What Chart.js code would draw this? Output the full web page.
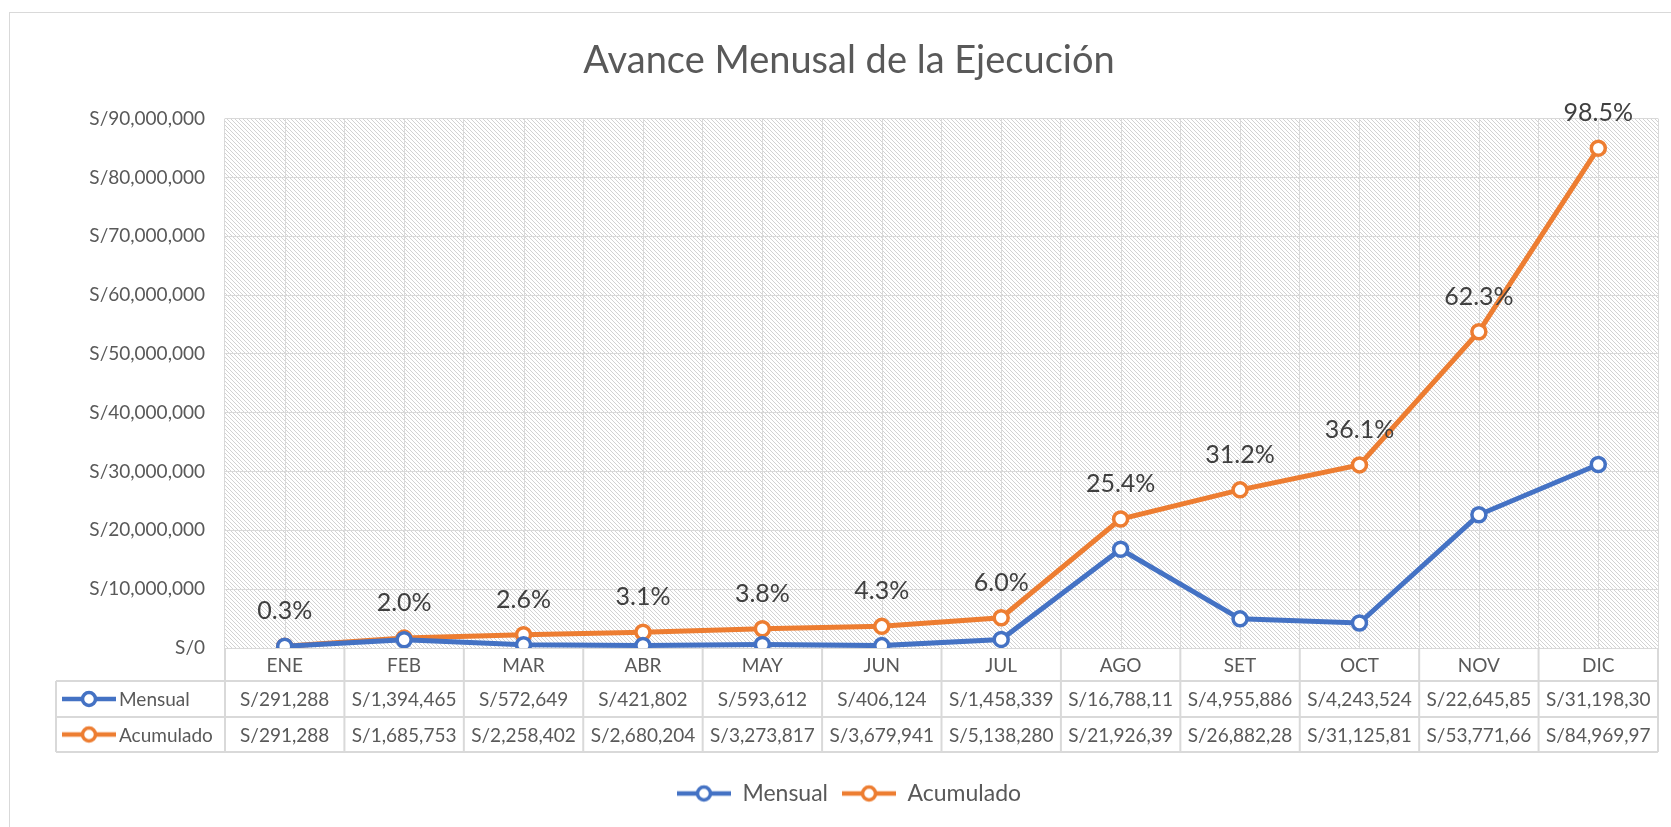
<!DOCTYPE html>
<html>
<head>
<meta charset="utf-8">
<script src="https://cdn.jsdelivr.net/npm/chart.js@4.4.1/dist/chart.umd.min.js"></script>
<style>
  body { margin: 0; background: #fff; }
  #wrap { position: relative; width: 1671px; height: 827px; }
  #frame { position: absolute; left: 9px; top: 12px; width: 1700px; height: 900px; border: 1px solid #d9d9d9; }
  canvas { position: absolute; left: 0; top: 0; }
</style>
</head>
<body>
<div id="wrap">
  <div id="frame"></div>
  <canvas id="myChart" width="1671" height="827"></canvas>
</div>
<script>
const meses = ["ENE", "FEB", "MAR", "ABR", "MAY", "JUN", "JUL", "AGO", "SET", "OCT", "NOV", "DIC"];
const mensual = [291288, 1394465, 572649, 421802, 593612, 406124, 1458339, 16788119, 4955886, 4243524, 22645855, 31198305];
const acumulado = [291288, 1685753, 2258402, 2680204, 3273817, 3679941, 5138280, 21926399, 26882286, 31125810, 53771665, 84969970];
const avance = [0.3, 2.0, 2.6, 3.1, 3.8, 4.3, 6.0, 25.4, 31.2, 36.1, 62.3, 98.5];
const yMax = 90000000;
const yStep = 10000000;

const azul = "#4472C4";
const naranja = "#ED7D31";
const gris = "#595959";
const linea = "#d9d9d9";
const fuente = "Lato, 'Open Sans', sans-serif";

function soles(n) {
  return "S/" + Math.round(n).toLocaleString("en-US");
}

function marcador(color) {
  const c = document.createElement("canvas");
  c.width = 54;
  c.height = 20;
  const g = c.getContext("2d");
  g.strokeStyle = color;
  g.lineWidth = 4.5;
  g.beginPath();
  g.moveTo(0, 10);
  g.lineTo(54, 10);
  g.stroke();
  g.fillStyle = "#fff";
  g.lineWidth = 3.5;
  g.beginPath();
  g.arc(27, 10, 6.5, 0, Math.PI * 2);
  g.fill();
  g.stroke();
  return c;
}
const marcaAzul = marcador(azul);
const marcaNaranja = marcador(naranja);

// trama diagonal del fondo
const trama = document.createElement("canvas");
trama.width = 4;
trama.height = 4;
const tg = trama.getContext("2d");
tg.fillStyle = "#fff";
tg.fillRect(0, 0, 4, 4);
tg.fillStyle = "#d2d2d2";
for (let i = 0; i < 4; i++) tg.fillRect(i, i, 1, 1);

const fondo = {
  id: "fondo",
  beforeDraw(chart) {
    const a = chart.chartArea;
    const ctx = chart.ctx;
    ctx.save();
    ctx.fillStyle = ctx.createPattern(trama, "repeat");
    ctx.fillRect(a.left, a.top, a.right - a.left, a.bottom - a.top);
    ctx.restore();
  },
  beforeDatasetsDraw(chart) {
    // lineas verticales en el centro de cada mes
    const a = chart.chartArea;
    const ctx = chart.ctx;
    const x = chart.scales.x;
    ctx.save();
    ctx.strokeStyle = linea;
    ctx.lineWidth = 1;
    meses.forEach((m, i) => {
      const px = Math.round(x.getPixelForValue(i)) + 0.5;
      ctx.beginPath();
      ctx.moveTo(px, a.top);
      ctx.lineTo(px, a.bottom);
      ctx.stroke();
    });
    ctx.restore();
  }
};

const etiquetas = {
  id: "etiquetas",
  afterDatasetsDraw(chart) {
    const ctx = chart.ctx;
    const pts = chart.getDatasetMeta(1).data;
    ctx.save();
    ctx.font = "25px " + fuente;
    ctx.fillStyle = "#404040";
    ctx.textAlign = "center";
    ctx.textBaseline = "middle";
    pts.forEach((p, i) => {
      ctx.fillText(avance[i].toFixed(1) + "%", p.x, p.y - 35);
    });
    ctx.restore();
  }
};

const tabla = {
  id: "tabla",
  afterDraw(chart) {
    const ctx = chart.ctx;
    const a = chart.chartArea;
    const x = chart.scales.x;
    const ancho = x.getPixelForValue(1) - x.getPixelForValue(0);
    const izq = 56;
    const filas = [a.bottom, a.bottom + 33, a.bottom + 69, a.bottom + 104];
    ctx.save();
    ctx.strokeStyle = linea;
    ctx.lineWidth = 2;
    ctx.beginPath();
    for (let r = 1; r < filas.length; r++) {
      ctx.moveTo(izq, filas[r]);
      ctx.lineTo(a.right, filas[r]);
    }
    for (let i = 0; i <= meses.length; i++) {
      const px = a.left + i * ancho;
      ctx.moveTo(px, filas[0]);
      ctx.lineTo(px, filas[3]);
    }
    ctx.moveTo(izq, filas[1]);
    ctx.lineTo(izq, filas[3]);
    ctx.stroke();

    const series = [
      { nombre: "Mensual", datos: mensual, marca: marcaAzul },
      { nombre: "Acumulado", datos: acumulado, marca: marcaNaranja }
    ];
    ctx.font = "19px " + fuente;
    ctx.fillStyle = gris;
    ctx.textBaseline = "middle";
    series.forEach((s, r) => {
      const cy = (filas[r + 1] + filas[r + 2]) / 2;
      ctx.drawImage(s.marca, 62, cy - 10);
      ctx.textAlign = "left";
      ctx.fillText(s.nombre, 119, cy + 1);
      s.datos.forEach((v, i) => {
        let txt = soles(v);
        while (ctx.measureText(txt).width > ancho - 8) txt = txt.slice(0, -1);
        ctx.textAlign = "center";
        ctx.fillText(txt, x.getPixelForValue(i), cy + 1);
      });
    });
    ctx.restore();
  }
};

const ctx = document.getElementById("myChart").getContext("2d");
const chart = new Chart(ctx, {
  type: "line",
  data: {
    labels: meses,
    datasets: [
      {
        label: "Mensual",
        data: mensual,
        borderColor: azul,
        backgroundColor: "#fff",
        borderWidth: 5,
        pointRadius: 7,
        pointBorderWidth: 3.5,
        pointBackgroundColor: "#fff",
        pointBorderColor: azul,
        tension: 0
      },
      {
        label: "Acumulado",
        data: acumulado,
        borderColor: naranja,
        backgroundColor: "#fff",
        borderWidth: 5,
        pointRadius: 7,
        pointBorderWidth: 3.5,
        pointBackgroundColor: "#fff",
        pointBorderColor: naranja,
        tension: 0
      }
    ]
  },
  options: {
    responsive: false,
    animation: false,
    layout: { padding: { left: 40, right: 13, top: 12, bottom: 12 } },
    plugins: {
      title: {
        display: true,
        text: "Avance Menusal de la Ejecución",
        color: gris,
        font: { family: fuente, size: 38, weight: "normal" },
        padding: { top: 26, bottom: 35 }
      },
      legend: {
        position: "bottom",
        labels: {
          color: gris,
          font: { family: fuente, size: 23 },
          usePointStyle: true,
          pointStyleWidth: 54,
          padding: 14,
          generateLabels() {
            return [
              { text: "Mensual", pointStyle: marcaAzul, fillStyle: azul, strokeStyle: azul, lineWidth: 0, fontColor: gris, datasetIndex: 0 },
              { text: "Acumulado", pointStyle: marcaNaranja, fillStyle: naranja, strokeStyle: naranja, lineWidth: 0, fontColor: gris, datasetIndex: 1 }
            ];
          }
        }
      },
      tooltip: { enabled: false }
    },
    scales: {
      x: {
        offset: true,
        grid: { color: linea, offset: true, drawTicks: false },
        border: { display: false },
        ticks: { color: gris, font: { family: fuente, size: 19 }, padding: 6, maxRotation: 0 },
        afterFit(scale) { scale.height = 120; }
      },
      y: {
        min: 0,
        max: yMax,
        grid: { color: linea, drawTicks: false },
        border: { display: false },
        ticks: {
          stepSize: yStep,
          color: gris,
          padding: 20,
          font: { family: fuente, size: 19 },
          callback: v => soles(v)
        },
        afterFit(scale) { scale.width = 185; }
      }
    }
  },
  plugins: [fondo, etiquetas, tabla]
});
</script>
</body>
</html>
